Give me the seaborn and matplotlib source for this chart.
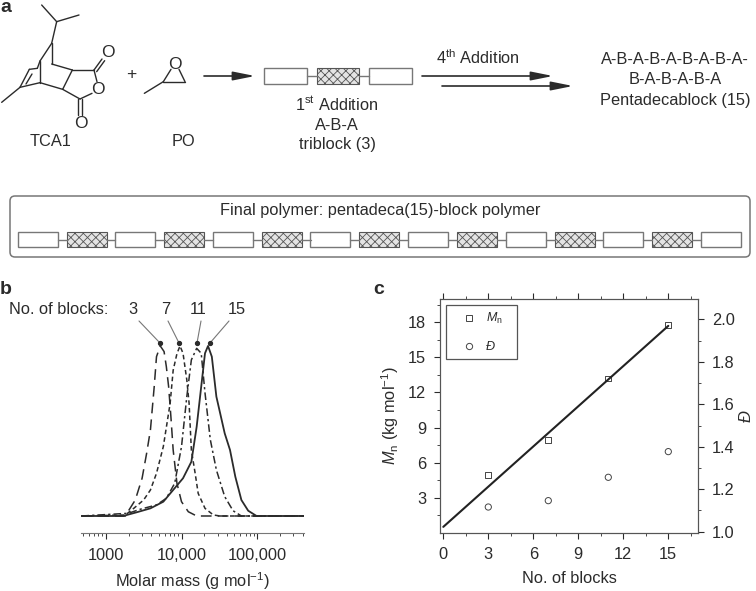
import numpy as np
import pandas as pd
import seaborn as sns
import matplotlib
matplotlib.use("Agg")
import matplotlib.pyplot as plt
from matplotlib.patches import Rectangle, FancyBboxPatch
from matplotlib.lines import Line2D
from matplotlib.ticker import FixedLocator, NullFormatter

# panel b: log10 molar mass and normalised trace height
log_m_3 = [2.68, 3.26, 3.28, 3.39, 3.48, 3.54, 3.59, 3.64, 3.67, 3.72, 3.77, 3.80, 3.83, 3.86, 3.89, 3.94, 4.00, 4.09, 4.20, 4.77, 5.62]
height_3 = [0, 0, .016, .094, .222, .369, .506, .761, .937, 1.0, .967, .878, .761, .584, .388, .192, .084, .025, 0, 0, 0]
log_m_7 = [2.68, 3.26, 3.37, 3.50, 3.59, 3.67, 3.76, 3.85, 3.89, 3.94, 3.98, 4.02, 4.07, 4.10, 4.13, 4.18, 4.22, 4.31, 4.42, 4.51, 5.62]
height_7 = [0, .006, .045, .094, .153, .251, .408, .663, .857, .955, 1.0, .957, .80, .663, .388, .251, .133, .045, .006, 0, 0]
log_m_11 = [2.68, 3.30, 3.45, 3.67, 3.80, 3.91, 4.00, 4.07, 4.13, 4.20, 4.26, 4.31, 4.38, 4.46, 4.57, 4.68, 4.79, 5.62]
height_11 = [0, .016, .039, .065, .104, .192, .408, .702, .918, .986, .957, .724, .449, .271, .114, .031, 0, 0]
log_m_15 = [2.68, 3.23, 3.41, 3.59, 3.76, 3.89, 4.02, 4.13, 4.20, 4.27, 4.31, 4.35, 4.40, 4.46, 4.51, 4.57, 4.64, 4.71, 4.79, 4.88, 4.99, 5.62]
height_15 = [0, 0, .022, .045, .084, .153, .222, .319, .525, .80, .957, 1.0, .937, .702, .604, .486, .388, .231, .094, .031, 0, 0]

# panel c
blocks = [3, 7, 11, 15]
mn_values = [4.9, 7.9, 13.2, 17.8]
dispersity = [1.116, 1.146, 1.256, 1.377]
fit_blocks = [0, 15]
fit_mn = [0.5, 17.7]

block_labels = ["3", "7", "11", "15"]

W, H = 756, 591
DARK = "#2b2b2b"
GREY = "#777777"
FS = 11.8

sns.set_theme(style="ticks")
plt.rcParams["font.family"] = ["Liberation Sans", "DejaVu Sans"]
plt.rcParams["mathtext.fontset"] = "custom"
plt.rcParams["mathtext.rm"] = "Liberation Sans"
plt.rcParams["mathtext.it"] = "Liberation Sans:italic"
plt.rcParams["mathtext.default"] = "regular"
plt.rcParams["hatch.linewidth"] = 0.6
plt.rcParams["text.color"] = DARK
plt.rcParams["axes.labelcolor"] = DARK
plt.rcParams["xtick.color"] = DARK
plt.rcParams["ytick.color"] = DARK

fig = plt.figure(figsize=(W / 100, H / 100), dpi=100)

# pixel coordinate canvas for the schematic
bg = fig.add_axes([0, 0, 1, 1])
bg.set_xlim(0, W)
bg.set_ylim(H, 0)
bg.axis("off")


def px_axes(left, top, right, bottom):
    return fig.add_axes([left / W, 1 - bottom / H, (right - left) / W, (bottom - top) / H])


def label(x, y, s, size=FS, **kw):
    bg.text(x, y, s, fontsize=size, ha=kw.pop("ha", "center"), va="center", **kw)


def bonds(segments, off=0, scale=3.0):
    for x0, y0, x1, y1 in segments:
        bg.plot([x0 / scale, x1 / scale], [off + y0 / scale, off + y1 / scale],
                color=DARK, lw=1.0, solid_capstyle="round")


def arrow(x0, x1, y):
    bg.annotate("", xy=(x1, y), xytext=(x0, y),
                arrowprops=dict(arrowstyle="-|>,head_length=1.1,head_width=0.22", color=DARK,
                                lw=1.2, shrinkA=0, shrinkB=0))


def block(x0, x1, y0, y1, hatched):
    if hatched:
        bg.add_patch(Rectangle((x0, y0), x1 - x0, y1 - y0, fc="#e4e4e4", ec="#555555",
                               hatch="xxxx", lw=0.8))
    else:
        bg.add_patch(Rectangle((x0, y0), x1 - x0, y1 - y0, fc="white", ec=GREY, lw=1.0))


# panel letters
label(0, 8, "a", size=14, fontweight="bold", ha="left")
label(0, 289, "b", size=14, fontweight="bold", ha="left")
label(373, 290, "c", size=14, fontweight="bold", ha="left")

bonds([
    (125, 15, 170, 65), (170, 65, 237, 45), (170, 65, 155, 130),
    (155, 130, 120, 183), (155, 130, 155, 192), (120, 183, 120, 248),
    (155, 192, 217, 210), (120, 248, 188, 268), (217, 210, 188, 268),
    (120, 183, 112, 205), (112, 205, 88, 208), (88, 208, 60, 262),
    (96, 222, 78, 252), (60, 262, 120, 248), (60, 262, 5, 307),
    (217, 210, 282, 210), (282, 210, 291, 245), (188, 268, 240, 297),
    (240, 297, 276, 280), (282, 210, 306, 177), (290, 215, 314, 182),
    (235, 297, 235, 345), (245, 297, 245, 345),
    (490, 245, 555, 245), (490, 245, 513, 208), (555, 245, 537, 208),
    (490, 245, 433, 280),
])
label(108, 52.5, "O", size=12.5)
label(98, 90, "O", size=12.5)
label(80.5, 124, "O", size=12.5)
label(175, 64.5, "O", size=12.5)
label(131.5, 75, "+", size=12.5)
label(50, 142, "TCA1")
label(183, 142, "PO")
arrow(204, 255, 76)

# triblock sketch
block(264, 306.5, 68, 84, False)
block(316.5, 359, 68, 84, True)
block(369, 412, 68, 84, False)
bg.plot([306.5, 316.5], [76, 76], color=GREY, lw=1)
bg.plot([359, 369], [76, 76], color=GREY, lw=1)
label(337, 104, "1$^{st}$ Addition")
label(337, 125, "A-B-A")
label(337, 144, "triblock (3)")

label(478, 58, "4$^{th}$ Addition")
arrow(422, 553, 76)
arrow(442, 573, 86)
label(675, 60, "A-B-A-B-A-B-A-B-A-")
label(675, 80, "B-A-B-A-B-A")
label(675, 100, "Pentadecablock (15)")

# final polymer box
bg.add_patch(FancyBboxPatch((14, 200), 732, 53, boxstyle="round,pad=4,rounding_size=5",
                            fc="white", ec=GREY, lw=1.1))
label(380, 210, "Final polymer: pentadeca(15)-block polymer")
for i in range(15):
    x0 = 17.7 + i * 48.8
    block(x0, x0 + 40, 232, 247, i % 2 == 1)
    if i < 14:
        bg.plot([x0 + 40, x0 + 48.8], [239.5, 239.5], color=GREY, lw=1)

# panel b labels and leaders
label(9, 310, "No. of blocks:", ha="left")
for s, tx, x0, x1 in zip(block_labels, [133, 166, 198, 237], [139, 168, 201, 229], [160, 179, 197, 210]):
    label(tx, 310, s)
    bg.plot([x0, x1], [321, 343], color=GREY, lw=0.8)
    bg.plot([x1], [343], "o", color=DARK, ms=2.8)

# panel b
ax_b = px_axes(81.3, 340, 304.3, 533)
ax_b.patch.set_alpha(0)
traces = [
    (log_m_3, height_3, (0, (7, 4)), 1.1),
    (log_m_7, height_7, (0, (3, 2)), 1.1),
    (log_m_11, height_11, (0, (5, 2, 1.5, 2)), 1.1),
    (log_m_15, height_15, "-", 1.3),
]
for log_m, height, style, width in traces:
    df = pd.DataFrame({"mass": 10 ** np.array(log_m), "height": height})
    sns.lineplot(data=df, x="mass", y="height", ax=ax_b, color=DARK, lw=width,
                 linestyle=style, sort=False, estimator=None)
ax_b.set_xscale("log")
ax_b.set_xlim(10 ** 2.678, 10 ** 5.62)
ax_b.set_ylim(-0.1, 1.035)
ax_b.set_xticks([1000, 10000, 100000], ["1000", "10,000", "100,000"])
ax_b.xaxis.set_minor_locator(FixedLocator(
    [m * 10 ** e for e in (2, 3, 4, 5) for m in range(2, 10)]))
ax_b.xaxis.set_minor_formatter(NullFormatter())
ax_b.tick_params(axis="x", which="major", length=4, width=0.8, labelsize=FS, pad=7)
ax_b.tick_params(axis="x", which="minor", length=2, width=0.6)
ax_b.set_yticks([])
ax_b.set_xlabel("Molar mass (g mol$^{-1}$)", fontsize=FS, labelpad=5)
ax_b.set_ylabel("")
for side in ("left", "right", "top"):
    ax_b.spines[side].set_visible(False)
ax_b.spines["bottom"].set_linewidth(0.8)
ax_b.spines["bottom"].set_color(GREY)

# panel c
ax_c = px_axes(440, 299, 698.3, 532.7)
ax_c.patch.set_alpha(0)
sns.lineplot(x=fit_blocks, y=fit_mn, ax=ax_c, color="#222222", lw=1.5)
sns.scatterplot(x=blocks, y=mn_values, ax=ax_c, marker="s", s=18, facecolor="none",
                edgecolor="#444444", linewidth=0.7)
ax_c.set_xlim(-0.22, 17)
ax_c.set_ylim(0, 20)
ax_c.set_xticks(np.arange(0, 16, 3))
ax_c.set_yticks(np.arange(3, 19, 3))
ax_c.set_xticks(np.arange(1.5, 17, 3), minor=True)
ax_c.set_yticks(np.arange(1.5, 20, 3), minor=True)
ax_c.xaxis.set_ticks_position("both")
ax_c.tick_params(which="major", length=4, width=0.8, labelsize=FS, pad=6)
ax_c.tick_params(which="minor", length=2, width=0.6)
ax_c.set_xlabel("No. of blocks", fontsize=FS, labelpad=7)
ax_c.set_ylabel(r"$\mathit{M}_{n}$ (kg mol$^{-1}$)", fontsize=FS, labelpad=5)

ax_d = ax_c.twinx()
sns.scatterplot(x=blocks, y=dispersity, ax=ax_d, marker="o", s=20, facecolor="none",
                edgecolor="#444444", linewidth=0.7)
ax_d.set_ylim(0.995, 2.096)
ax_d.set_yticks(np.arange(1.0, 2.01, 0.2))
ax_d.set_yticks(np.arange(1.1, 2.0, 0.2), minor=True)
ax_d.tick_params(which="major", length=4, width=0.8, labelsize=FS, pad=6)
ax_d.tick_params(which="minor", length=2, width=0.6)
ax_d.set_ylabel("Đ", fontsize=FS, style="italic", labelpad=3)
for a in (ax_c, ax_d):
    for sp in a.spines.values():
        sp.set_linewidth(0.8)
        sp.set_color("#555555")

handles = [
    Line2D([], [], ls="", marker="s", ms=4, mfc="none", mec="#444444", mew=0.7),
    Line2D([], [], ls="", marker="o", ms=4.5, mfc="none", mec="#444444", mew=0.7),
]
leg = ax_d.legend(handles, [r"$\mathit{M}_{n}$   ", "Đ"], loc="upper left",
                  bbox_to_anchor=(0.023, 0.973), borderaxespad=0, fancybox=False,
                  framealpha=1, edgecolor="#555555", fontsize=9, borderpad=0.46,
                  labelspacing=1.2, handletextpad=0, handlelength=2.76)
leg.get_frame().set_linewidth(0.9)
leg.get_texts()[1].set_fontstyle("italic")

fig.savefig("out.png", dpi=100)
plt.close(fig)
